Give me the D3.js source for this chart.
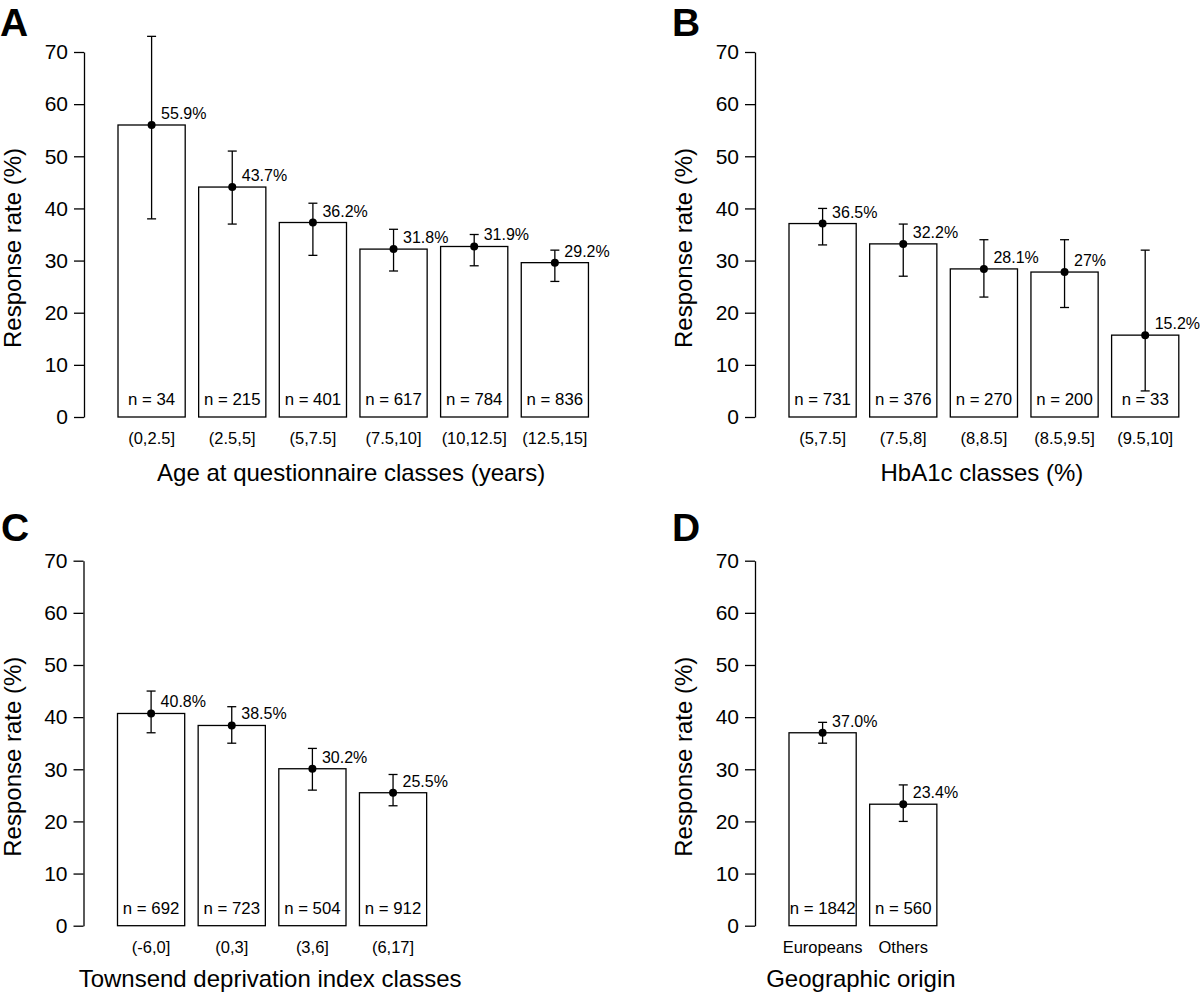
<!DOCTYPE html>
<html>
<head>
<meta charset="utf-8">
<script src="https://cdn.jsdelivr.net/npm/d3@7"></script>
<style>
  html, body { margin: 0; padding: 0; background: #fff; }
  svg { display: block; }
  text { font-family: "Liberation Sans", Arial, Helvetica, sans-serif; fill: #000; }
</style>
</head>
<body>
<svg id="chart" width="1200" height="993"></svg>
<script>
// ---- Data ----
const catsA = ["(0,2.5]", "(2.5,5]", "(5,7.5]", "(7.5,10]", "(10,12.5]", "(12.5,15]"];
const rateA = [56.0, 44.1, 37.3, 32.2, 32.7, 29.6];
const loA = [38, 37, 31, 28, 29, 26];
const hiA = [73, 51, 41, 36, 35, 32];
const pctA = ["55.9%", "43.7%", "36.2%", "31.8%", "31.9%", "29.2%"];
const nA = [34, 215, 401, 617, 784, 836];

const catsB = ["(5,7.5]", "(7.5,8]", "(8,8.5]", "(8.5,9.5]", "(9.5,10]"];
const rateB = [37.1, 33.2, 28.4, 27.8, 15.7];
const loB = [33, 27, 23, 21, 5];
const hiB = [40, 37, 34, 34, 32];
const pctB = ["36.5%", "32.2%", "28.1%", "27%", "15.2%"];
const nB = [731, 376, 270, 200, 33];

const catsC = ["(-6,0]", "(0,3]", "(3,6]", "(6,17]"];
const rateC = [40.7, 38.4, 30.1, 25.5];
const loC = [37, 35, 26, 23];
const hiC = [45, 42, 34, 29];
const pctC = ["40.8%", "38.5%", "30.2%", "25.5%"];
const nC = [692, 723, 504, 912];

const catsD = ["Europeans", "Others"];
const rateD = [37.0, 23.3];
const loD = [35, 20];
const hiD = [39, 27];
const pctD = ["37.0%", "23.4%"];
const nD = [1842, 560];

const yTicks = [0, 10, 20, 30, 40, 50, 60, 70];

const panels = [
  { letter: "A", cats: catsA, rate: rateA, lo: loA, hi: hiA, pct: pctA, n: nA,
    title: "Age at questionnaire classes (years)", axisX: 84, y0: 417, letterX: 0, letterY: 36 },
  { letter: "B", cats: catsB, rate: rateB, lo: loB, hi: hiB, pct: pctB, n: nB,
    title: "HbA1c classes (%)", axisX: 755, y0: 417, letterX: 672, letterY: 36 },
  { letter: "C", cats: catsC, rate: rateC, lo: loC, hi: hiC, pct: pctC, n: nC,
    title: "Townsend deprivation index classes", axisX: 83.5, y0: 925.7, letterX: 1, letterY: 541 },
  { letter: "D", cats: catsD, rate: rateD, lo: loD, hi: hiD, pct: pctD, n: nD,
    title: "Geographic origin", axisX: 755, y0: 925.7, letterX: 672, letterY: 541 }
];

// ---- Drawing ----
const svg = d3.select("#chart");
const STEP = 80.65, BW = 67.2, GAP0 = 34;

panels.forEach(p => {
  const g = svg.append("g");
  const y = d3.scaleLinear().domain([0, 70]).range([p.y0, p.y0 - 365]);
  const n = p.cats.length;
  const xStart = p.axisX + GAP0;
  const x = d3.scaleBand().domain(p.cats)
    .range([xStart, xStart + n * STEP - (STEP - BW)])
    .paddingInner((STEP - BW) / STEP).paddingOuter(0);

  // y axis
  const yAxis = d3.axisLeft(y).tickValues(yTicks).tickSize(10).tickPadding(6).tickSizeOuter(0);
  const ag = g.append("g").attr("transform", `translate(${p.axisX},0)`).call(yAxis);
  ag.select(".domain").attr("stroke", "#000").attr("stroke-width", 1.3);
  ag.selectAll(".tick line").attr("stroke", "#000").attr("stroke-width", 1.3);
  ag.selectAll(".tick text").attr("font-size", 21).attr("fill", "#000")
    .attr("font-family", '"Liberation Sans", Arial, Helvetica, sans-serif');

  const data = p.cats.map((c, i) => ({ c, v: p.rate[i], lo: p.lo[i], hi: p.hi[i], pct: p.pct[i], n: p.n[i] }));

  // bars
  g.selectAll("rect.bar").data(data).enter().append("rect")
    .attr("x", d => x(d.c)).attr("width", x.bandwidth())
    .attr("y", d => y(d.v)).attr("height", d => y(0) - y(d.v))
    .attr("fill", "#fff").attr("stroke", "#000").attr("stroke-width", 1.3);

  const cx = d => x(d.c) + x.bandwidth() / 2;

  // error bars
  g.selectAll("line.err").data(data).enter().append("line")
    .attr("x1", cx).attr("x2", cx).attr("y1", d => y(d.lo)).attr("y2", d => y(d.hi))
    .attr("stroke", "#000").attr("stroke-width", 1.3);
  ["lo", "hi"].forEach(k => {
    g.selectAll("line.cap" + k).data(data).enter().append("line")
      .attr("x1", d => cx(d) - 4.5).attr("x2", d => cx(d) + 4.5)
      .attr("y1", d => y(d[k])).attr("y2", d => y(d[k]))
      .attr("stroke", "#000").attr("stroke-width", 1.3);
  });

  // points
  g.selectAll("circle.pt").data(data).enter().append("circle")
    .attr("cx", cx).attr("cy", d => y(d.v)).attr("r", 4).attr("fill", "#000");

  // value labels
  g.selectAll("text.pct").data(data).enter().append("text")
    .attr("x", d => cx(d) + 9.5).attr("y", d => y(d.v) - 6)
    .attr("font-size", 16).text(d => d.pct);

  // n labels
  g.selectAll("text.n").data(data).enter().append("text")
    .attr("x", cx).attr("y", y(0) - 12).attr("text-anchor", "middle")
    .attr("font-size", 16.8).text(d => "n = " + d.n);

  // category labels
  g.selectAll("text.cat").data(data).enter().append("text")
    .attr("x", cx).attr("y", y(0) + 27).attr("text-anchor", "middle")
    .attr("font-size", 16.5).text(d => d.c);

  // x title
  const lastRight = x(p.cats[n - 1]) + x.bandwidth();
  g.append("text")
    .attr("x", (p.axisX + lastRight) / 2 + 15)
    .attr("y", p.y0 < 500 ? 481 : 987)
    .attr("text-anchor", "middle").attr("font-size", 24).text(p.title);

  // y title
  g.append("text")
    .attr("transform", `translate(${p.axisX - 63},${y(0) - 169}) rotate(-90)`)
    .attr("text-anchor", "middle").attr("font-size", 24).text("Response rate (%)");

  // panel letter
  g.append("text").attr("x", p.letterX).attr("y", p.letterY)
    .attr("font-size", 39).attr("font-weight", "bold").text(p.letter);
});
</script>
</body>
</html>
